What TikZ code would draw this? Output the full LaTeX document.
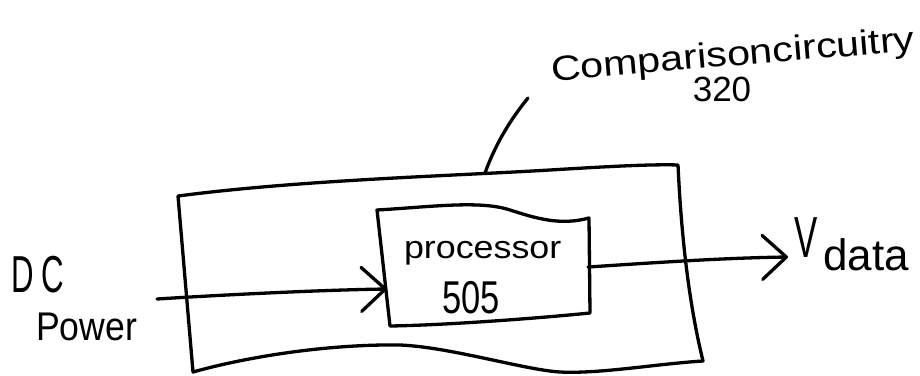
\documentclass[tikz,border=0pt]{standalone}
\usepackage{fontspec}
\usepackage{graphicx}
\setmainfont{Liberation Sans}
\usetikzlibrary{arrows.meta}
\tikzset{
  hand/.style={line width=3.3pt, line cap=round, line join=round, black},
  harrow/.style={hand, -{Straight Barb[length=24pt,width=44pt,line cap=round,line join=round]}},
  lbl/.style={inner sep=0pt, outer sep=0pt, black}
}
\begin{document}
\begin{tikzpicture}[x=1pt,y=-1pt]
\useasboundingbox (0,0) rectangle (920,375);
% named points
\coordinate (leadA) at (485,173);
\coordinate (leadB) at (528,98);
\coordinate (dcin) at (157,299);
\coordinate (pin) at (387,289);
\coordinate (pout) at (588,267);
\coordinate (vtip) at (788,257);
% outer box (comparison circuitry 320)
\draw[hand] (178,196) .. controls (300,180) and (450,176) .. (550,170)
  .. controls (600,167) and (650,164) .. (678,165)
  .. controls (681,230) and (688,300) .. (703,361)
  .. controls (655,364) and (600,374) .. (560,372)
  .. controls (525,370) and (450,347) .. (400,345)
  .. controls (330,344) and (250,356) .. (193,372)
  -- cycle;
% inner box (processor 505)
\draw[hand] (377,210) .. controls (430,207) and (480,200) .. (510,210)
  .. controls (535,218) and (560,226) .. (589,218)
  -- (590,313)
  .. controls (540,318) and (450,325) .. (390,326)
  -- cycle;
% leader line
\draw[hand] (leadA) .. controls (495,145) and (510,120) .. (leadB);
% arrows
\draw[harrow] (dcin) .. controls (220,295) and (320,290) .. (pin);
\draw[harrow] (pout) .. controls (650,263) and (720,258) .. (vtip);
% labels
\node[lbl, anchor=base west, rotate=4.8] (complabel) at (552,81)
  {\fontsize{35}{35}\selectfont\scalebox{1.18}[1]{Comparisoncircuitry}};
\node[lbl, anchor=base] (compnum) at (722,101)
  {\fontsize{35}{35}\selectfont 320};
\node[lbl, anchor=base west] (proctext) at (404,258)
  {\fontsize{32}{32}\selectfont\scalebox{1.12}[1]{processor}};
\node[lbl, anchor=base] (procnum) at (471,313)
  {\fontsize{46}{46}\selectfont\scalebox{0.75}[1]{505}};
\node[lbl, anchor=base west] (vdata) at (794,257)
  {\fontsize{58}{58}\selectfont\scalebox{0.6}[1]{V}\hspace{6pt}\raisebox{-13pt}{\fontsize{44}{44}\selectfont data}};
\node[lbl, anchor=base west] (dc) at (11,292)
  {\fontsize{52}{52}\selectfont\scalebox{0.6}[1]{D\hspace{13pt}C}};
\node[lbl, anchor=base west] (power) at (36,340)
  {\fontsize{40}{40}\selectfont\scalebox{0.89}[1]{Power}};
\end{tikzpicture}
\end{document}
